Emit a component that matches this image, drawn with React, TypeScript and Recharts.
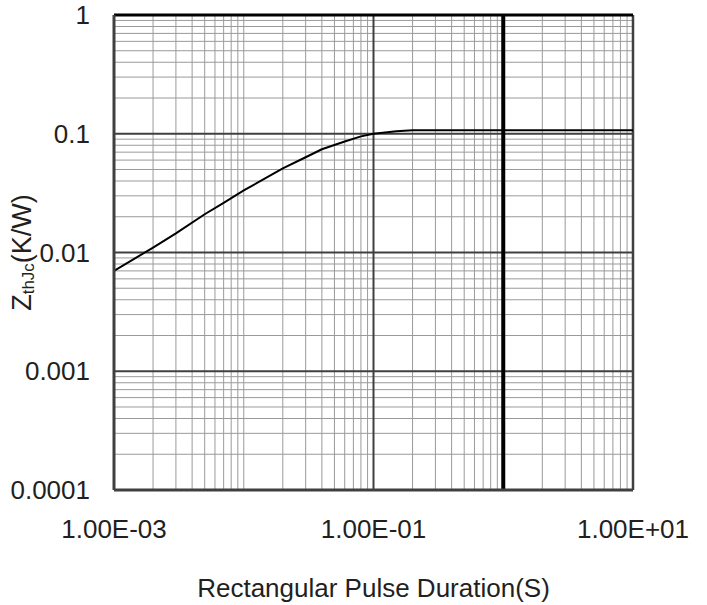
import { LineChart, Line, XAxis, YAxis, ReferenceLine } from "recharts";

// pulse duration (s) and thermal impedance Zth(j-c) (K/W)
const PULSE_S = [0.001, 0.002, 0.003, 0.005, 0.007, 0.01, 0.02, 0.03, 0.04, 0.06, 0.08, 0.1, 0.15, 0.2, 0.5, 1, 10];
const ZTH_KW = [0.007, 0.011, 0.0145, 0.021, 0.0262, 0.0333, 0.051, 0.0634, 0.074, 0.086, 0.095, 0.1, 0.105, 0.107, 0.107, 0.107, 0.107];

const X_TICKS = [0.001, 0.1, 10];
const X_TICK_LABELS = ["1.00E-03", "1.00E-01", "1.00E+01"];
const Y_TICKS = [0.0001, 0.001, 0.01, 0.1, 1];
const Y_TICK_LABELS = ["0.0001", "0.001", "0.01", "0.1", "1"];

// log grid: decade starts and the 2..9 multiples inside each decade
const X_DECADES = [0.001, 0.01, 0.1, 1];
const Y_DECADES = [0.0001, 0.001, 0.01, 0.1];
const MULTS = [2, 3, 4, 5, 6, 7, 8, 9];
const X_MINOR = [...X_DECADES.flatMap((d) => MULTS.map((m) => m * d)), 0.01];
const Y_MINOR = Y_DECADES.flatMap((d) => MULTS.map((m) => m * d));
const Y_MAJOR = [0.001, 0.01, 0.1];

const data = PULSE_S.map((t, i) => ({ t, z: ZTH_KW[i] }));

const FONT = '"Liberation Sans", Arial, sans-serif';
const TEXT = "#231f20";
const FS = 26;

const YLabel = ({ viewBox }: any) => {
  const cy = viewBox ? viewBox.y + viewBox.height / 2 : 252;
  return (
    <text
      x={22}
      y={cy}
      transform={`rotate(-90, 22, ${cy})`}
      textAnchor="middle"
      dominantBaseline="central"
      fontFamily={FONT}
      fontSize={27}
      fill={TEXT}
    >
      Z
      <tspan fontSize={17} dy={6}>thJc</tspan>
      <tspan fontSize={27} dy={-6}>(K/W)</tspan>
    </text>
  );
};

const App = () => (
  <div style={{ position: "absolute", left: 0, top: 0, background: "#fff" }}>
    <LineChart
      width={707}
      height={605}
      data={data}
      margin={{ top: 15, right: 74, bottom: 0, left: 0 }}
    >
      <XAxis
        dataKey="t"
        type="number"
        scale="log"
        domain={[0.001, 10]}
        allowDataOverflow
        ticks={X_TICKS}
        tickFormatter={(v: number) => X_TICK_LABELS[X_TICKS.indexOf(v)] ?? ""}
        interval={0}
        height={115}
        tickSize={0}
        tickMargin={30}
        tick={{ fontSize: FS, fill: TEXT, fontFamily: FONT }}
        axisLine={{ stroke: "#404040", strokeWidth: 3 }}
        tickLine={false}
        label={{
          value: "Rectangular Pulse Duration(S)",
          position: "insideBottom",
          offset: 8,
          fontSize: FS,
          fill: TEXT,
          fontFamily: FONT,
        }}
      />
      <YAxis
        type="number"
        scale="log"
        domain={[0.0001, 1]}
        allowDataOverflow
        ticks={Y_TICKS}
        tickFormatter={(v: number) => Y_TICK_LABELS[Y_TICKS.indexOf(v)] ?? ""}
        interval={0}
        width={114}
        tickSize={0}
        tickMargin={24}
        tick={{ fontSize: FS, fill: TEXT, fontFamily: FONT }}
        axisLine={{ stroke: "#404040", strokeWidth: 3 }}
        tickLine={false}
        label={<YLabel />}
      />
      {X_MINOR.map((v) => (
        <ReferenceLine key={`xm${v}`} x={v} stroke="#9a9a9a" strokeWidth={1} />
      ))}
      {Y_MINOR.map((v) => (
        <ReferenceLine key={`ym${v}`} y={v} stroke="#9a9a9a" strokeWidth={1} />
      ))}
      {Y_MAJOR.map((v) => (
        <ReferenceLine key={`yM${v}`} y={v} stroke="#404040" strokeWidth={2} />
      ))}
      <ReferenceLine x={0.1} stroke="#404040" strokeWidth={2} />
      <ReferenceLine x={1} stroke="#000" strokeWidth={4} />
      <ReferenceLine x={10} stroke="#404040" strokeWidth={2.5} />
      <ReferenceLine y={1} stroke="#000" strokeWidth={3} />
      <Line
        type="linear"
        dataKey="z"
        stroke="#000"
        strokeWidth={2}
        dot={false}
        isAnimationActive={false}
      />
    </LineChart>
  </div>
);

export default App;
